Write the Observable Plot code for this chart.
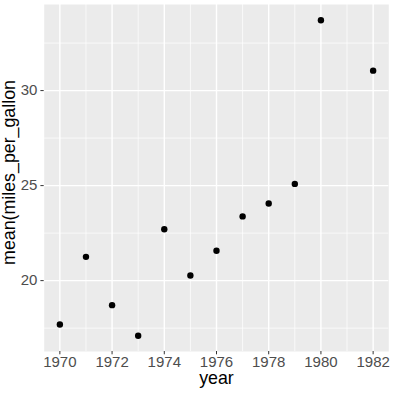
<!DOCTYPE html>
<html><head><meta charset="utf-8">
<script src="https://cdn.jsdelivr.net/npm/d3@7"></script>
<script src="https://cdn.jsdelivr.net/npm/@observablehq/plot@0.6"></script>
<style>
body{margin:0;background:#fff}
svg{display:block}
</style>
</head><body><div id="chart"></div>
<script>
const years = [1970, 1971, 1972, 1973, 1974, 1975, 1976, 1977, 1978, 1979, 1980, 1982];
const mpg = [17.69, 21.25, 18.71, 17.10, 22.70, 20.27, 21.57, 23.38, 24.06, 25.09, 33.70, 31.05];
const xTicks = [1970, 1972, 1974, 1976, 1978, 1980, 1982];
const xMinor = [1971, 1973, 1975, 1977, 1979, 1981];
const yTicks = [20, 25, 30];
const yMinor = [17.5, 22.5, 27.5, 32.5];
const xTitle = "year";
const yTitle = "mean(miles_per_gallon";

const data = years.map((y, i) => ({year: y, mpg: mpg[i]}));
const ex = d3.extent(years), ey = d3.extent(mpg);
const px = (ex[1] - ex[0]) * 0.05, py = (ey[1] - ey[0]) * 0.05;
const font = "'Liberation Sans', Arial, sans-serif";

const chart = Plot.plot({
  width: 393, height: 393,
  marginLeft: 43.7, marginRight: 4.7, marginTop: 4, marginBottom: 42,
  style: {fontFamily: font, fontSize: "15px", background: "#fff"},
  x: {domain: [ex[0] - px, ex[1] + px]},
  y: {domain: [ey[0] - py, ey[1] + py]},
  marks: [
    Plot.frame({fill: "#ebebeb", stroke: null}),
    Plot.ruleX(xMinor, {stroke: "#fff", strokeWidth: 0.7}),
    Plot.ruleY(yMinor, {stroke: "#fff", strokeWidth: 0.7}),
    Plot.ruleX(xTicks, {stroke: "#fff", strokeWidth: 1.4}),
    Plot.ruleY(yTicks, {stroke: "#fff", strokeWidth: 1.4}),
    Plot.axisX({ticks: xTicks, tickFormat: d => String(d), label: null, tickSize: 3.3, tickPadding: 1.7, stroke: "#333", fill: "#4d4d4d", fontSize: 15}),
    Plot.axisY({ticks: yTicks, tickFormat: d => String(d), label: null, tickSize: 3.3, tickPadding: 3.5, stroke: "#333", fill: "#4d4d4d", fontSize: 15}),
    Plot.dot(data, {x: "year", y: "mpg", r: 3.2, fill: "#000", stroke: null}),
    Plot.text([xTitle], {frameAnchor: "bottom", text: d => d, textAnchor: "middle", lineAnchor: "middle", dy: 26.5, fontSize: 17.8, fill: "#000"}),
    Plot.text([yTitle], {frameAnchor: "left", text: d => d, textAnchor: "middle", lineAnchor: "middle", rotate: -90, dx: -34.7, dy: -5.5, fontSize: 17.8, fill: "#000"})
  ]
});
document.getElementById("chart").appendChild(chart);
</script>
</body></html>
